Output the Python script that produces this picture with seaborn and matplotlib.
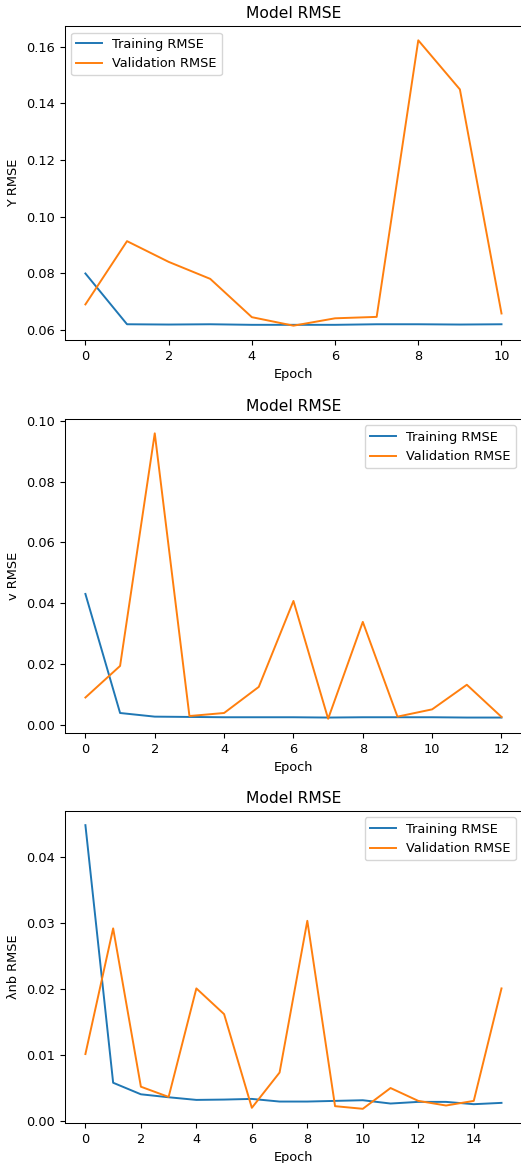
import matplotlib
matplotlib.use("Agg")
import matplotlib.pyplot as plt
import pandas as pd
import seaborn as sns

# Y RMSE per epoch
y_train = [0.0800, 0.0621, 0.0620, 0.0621, 0.0619, 0.0619, 0.0619, 0.0621, 0.0621, 0.0620, 0.0621]
y_val = [0.0691, 0.0914, 0.0841, 0.0781, 0.0646, 0.0616, 0.0642, 0.0647, 0.1622, 0.1449, 0.0659]

# v RMSE per epoch
v_train = [0.0430, 0.0038, 0.0026, 0.0025, 0.0024, 0.0024, 0.0024, 0.0023, 0.0024, 0.0024, 0.0024, 0.0023, 0.0023]
v_val = [0.0089, 0.0193, 0.0959, 0.0028, 0.0038, 0.0124, 0.0407, 0.0019, 0.0338, 0.0026, 0.0050, 0.0131, 0.0025]

# λnb RMSE per epoch
l_train = [0.0448, 0.00575, 0.0040, 0.00355, 0.00315, 0.0032, 0.0033, 0.0029, 0.0029, 0.0030,
           0.0031, 0.0026, 0.00285, 0.00285, 0.0025, 0.0027]
l_val = [0.0101, 0.02915, 0.00515, 0.0036, 0.02005, 0.01615, 0.00195, 0.0073, 0.0303, 0.0022,
         0.0018, 0.00495, 0.0030, 0.0023, 0.0030, 0.02005]

panels = [
    ("Y RMSE", y_train, y_val, "upper left"),
    ("v RMSE", v_train, v_val, "upper right"),
    ("λnb RMSE", l_train, l_val, "upper right"),
]

# the reference looks like a slightly downscaled default-matplotlib figure
plt.rcParams.update({
    "font.size": 9.3,
    "axes.titlesize": 11.2,
    "lines.linewidth": 1.4,
    "axes.linewidth": 0.75,
})

fig = plt.figure(figsize=(5.21, 11.63), dpi=100)
# right spine sits just past the image edge, like in the reference
boxes = [
    [0.124, 0.7077, 0.8785, 0.2699],
    [0.124, 0.3697, 0.8785, 0.2700],
    [0.124, 0.0344, 0.8785, 0.2683],
]

for (label, train, val, loc), box in zip(panels, boxes):
    ax = fig.add_axes(box)
    df = pd.DataFrame({"epoch": range(len(train)), "train": train, "val": val})
    sns.lineplot(data=df, x="epoch", y="train", ax=ax, color="#1f77b4", label="Training RMSE")
    sns.lineplot(data=df, x="epoch", y="val", ax=ax, color="#ff7f0e", label="Validation RMSE")
    ax.set_title("Model RMSE")
    ax.set_xlabel("Epoch")
    ax.set_ylabel(label)
    ax.legend(loc=loc)

fig.savefig("out.png", dpi=100)
